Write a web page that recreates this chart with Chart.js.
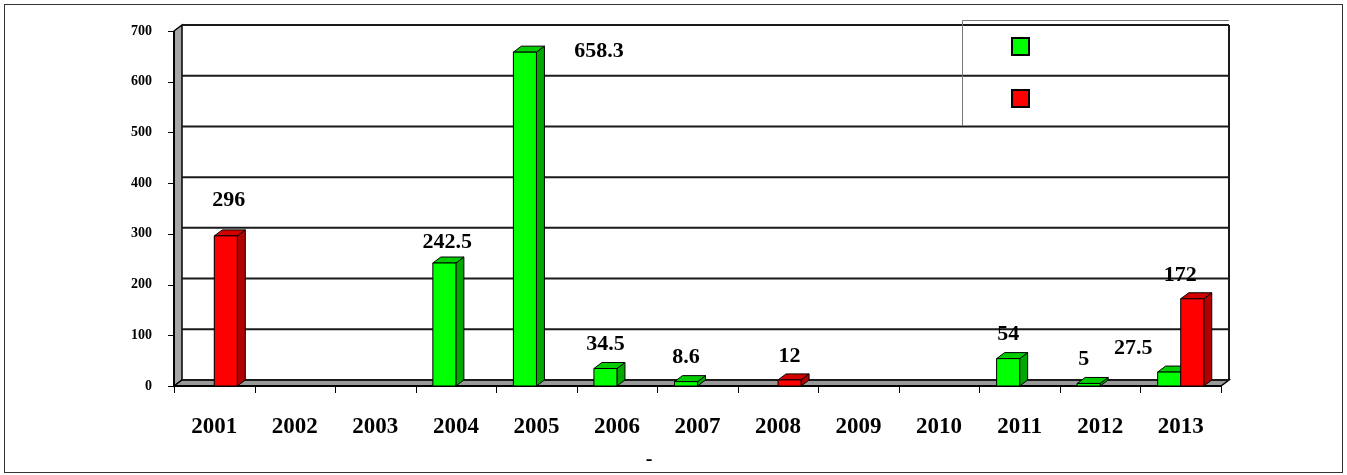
<!DOCTYPE html>
<html>
<head>
<meta charset="utf-8">
<script src="https://cdn.jsdelivr.net/npm/chart.js@4.4.0/dist/chart.umd.min.js"></script>
<style>
  html, body { margin: 0; padding: 0; background: #fff; }
  #wrap { width: 1347px; height: 475px; position: relative; }
</style>
</head>
<body>
<div id="wrap"><canvas id="chart"></canvas></div>
<script>
// Data
const years = ['2001', '2002', '2003', '2004', '2005', '2006', '2007', '2008', '2009', '2010', '2011', '2012', '2013'];
const greenValues = [null, null, null, 242.5, 658.3, 34.5, 8.6, null, null, null, 54, 5, 27.5];
const redValues = [296, null, null, null, null, null, null, 12, null, null, null, null, 172];
const yTicks = [0, 100, 200, 300, 400, 500, 600, 700];

// 3D depth offset of the back plane
const DX = 8, DY = -6;
const serif = '"Liberation Serif", "Times New Roman", serif';

const faceColors = [
  { front: '#00ff00', side: '#00a800', top: '#00cc00' },
  { front: '#ff0000', side: '#b00000', top: '#d40000' }
];

// label nudges (pixels) where the original placed them away from the bar top
const labelShift = {
  '1:0': [3, -12],
  '0:3': [3, 3],
  '0:4': [74, 23],
  '0:11': [-5, 0],
  '0:12': [-36, 0],
  '1:12': [-12, 1]
};

function poly(ctx, pts) {
  ctx.beginPath();
  ctx.moveTo(pts[0][0], pts[0][1]);
  for (let i = 1; i < pts.length; i++) ctx.lineTo(pts[i][0], pts[i][1]);
  ctx.closePath();
}

const threeD = {
  id: 'threeD',
  beforeDraw(chart) {
    const ctx = chart.ctx;
    ctx.save();
    ctx.fillStyle = '#fff';
    ctx.fillRect(0, 0, chart.width, chart.height);
    ctx.strokeStyle = '#333';
    ctx.lineWidth = 1;
    ctx.strokeRect(4.5, 4.5, 1338, 468);
    ctx.restore();
  },
  beforeDatasetsDraw(chart) {
    const ctx = chart.ctx, xs = chart.scales.x, ys = chart.scales.y;
    const l = xs.left, r = xs.right;
    const t = ys.getPixelForValue(700), b = ys.getPixelForValue(0);
    ctx.save();
    ctx.strokeStyle = '#000';
    ctx.lineWidth = 1.5;
    // left wall
    ctx.fillStyle = '#a6a6a6';
    poly(ctx, [[l, b], [l, t], [l + DX, t + DY], [l + DX, b + DY]]);
    ctx.fill(); ctx.stroke();
    // floor
    ctx.fillStyle = '#999';
    poly(ctx, [[l, b], [l + DX, b + DY], [r + DX, b + DY], [r, b]]);
    ctx.fill(); ctx.stroke();
    // grid lines on the back wall
    ctx.strokeStyle = '#1a1a1a';
    ctx.lineWidth = 2;
    yTicks.forEach(v => {
      const py = ys.getPixelForValue(v) + DY;
      ctx.beginPath();
      ctx.moveTo(l + DX, py);
      ctx.lineTo(r + DX, py);
      ctx.stroke();
    });
    // right edge of back wall
    ctx.beginPath();
    ctx.moveTo(r + DX, t + DY);
    ctx.lineTo(r + DX, b + DY);
    ctx.stroke();
    // front axes
    ctx.strokeStyle = '#000';
    ctx.lineWidth = 2;
    ctx.beginPath();
    ctx.moveTo(l, t); ctx.lineTo(l, b); ctx.lineTo(r, b);
    ctx.stroke();
    ctx.lineWidth = 1;
    yTicks.forEach(v => {
      const py = Math.round(ys.getPixelForValue(v)) + 0.5;
      ctx.beginPath(); ctx.moveTo(l - 6, py); ctx.lineTo(l, py); ctx.stroke();
    });
    const cw = (r - l) / years.length;
    for (let i = 0; i <= years.length; i++) {
      const px = Math.round(l + i * cw) + 0.5;
      ctx.beginPath(); ctx.moveTo(px, b); ctx.lineTo(px, b + 7); ctx.stroke();
    }
    ctx.restore();
  },
  afterDatasetsDraw(chart) {
    const ctx = chart.ctx;
    const bars = [];
    chart.data.datasets.forEach((ds, di) => {
      chart.getDatasetMeta(di).data.forEach((el, i) => {
        if (ds.data[i] == null) return;
        bars.push({ el, di, i, v: ds.data[i] });
      });
    });
    bars.sort((a, b) => a.el.x - b.el.x);
    ctx.save();
    ctx.strokeStyle = '#000';
    ctx.lineWidth = 1;
    bars.forEach(({ el, di }) => {
      const c = faceColors[di];
      const x0 = el.x - el.width / 2, x1 = el.x + el.width / 2;
      const top = el.y, base = el.base;
      ctx.fillStyle = c.side;
      poly(ctx, [[x1, base], [x1, top], [x1 + DX, top + DY], [x1 + DX, base + DY]]);
      ctx.fill(); ctx.stroke();
      ctx.fillStyle = c.top;
      poly(ctx, [[x0, top], [x0 + DX, top + DY], [x1 + DX, top + DY], [x1, top]]);
      ctx.fill(); ctx.stroke();
      ctx.fillStyle = c.front;
      poly(ctx, [[x0, base], [x0, top], [x1, top], [x1, base]]);
      ctx.fill(); ctx.stroke();
    });
    // value labels
    ctx.fillStyle = '#000';
    ctx.font = 'bold 22px ' + serif;
    ctx.textAlign = 'center';
    ctx.textBaseline = 'middle';
    bars.forEach(({ el, di, i, v }) => {
      const s = labelShift[di + ':' + i] || [0, 0];
      ctx.fillText(String(v), el.x + s[0], el.y - 24 + s[1]);
    });
    // axis title (only the dash survives in the original)
    ctx.font = 'bold 20px ' + serif;
    ctx.fillText('-', 649, 460);
    // legend box
    ctx.strokeStyle = '#777';
    ctx.lineWidth = 1;
    ctx.beginPath();
    ctx.moveTo(962.5, 126); ctx.lineTo(962.5, 20.5); ctx.lineTo(1229, 20.5);
    ctx.stroke();
    ctx.strokeStyle = '#000';
    ctx.lineWidth = 2;
    [[38, 0], [90, 1]].forEach(([py, di]) => {
      ctx.fillStyle = faceColors[di].front;
      ctx.fillRect(1012, py, 17, 17);
      ctx.strokeRect(1012, py, 17, 17);
    });
    ctx.restore();
  }
};

const ctx = document.getElementById('chart').getContext('2d');
const chart = new Chart(ctx, {
  type: 'bar',
  data: {
    labels: years,
    datasets: [
      { label: '', data: greenValues, backgroundColor: faceColors[0].front, borderColor: '#000', borderWidth: 1 },
      { label: '', data: redValues, backgroundColor: faceColors[1].front, borderColor: '#000', borderWidth: 1 }
    ]
  },
  options: {
    responsive: true,
    maintainAspectRatio: false,
    devicePixelRatio: 1,
    animation: false,
    layout: { padding: { top: 31, right: 126, left: 0, bottom: 0 } },
    datasets: { bar: { categoryPercentage: 0.572, barPercentage: 1 } },
    plugins: { legend: { display: false }, tooltip: { enabled: false } },
    scales: {
      x: {
        grid: { display: false, drawTicks: false },
        border: { display: false },
        ticks: { color: '#000', padding: 27, font: { family: serif, size: 23, weight: 'bold' }, maxRotation: 0 },
        afterFit(scale) { scale.height = 89; }
      },
      y: {
        min: 0,
        max: 700,
        grid: { display: false, drawTicks: false },
        border: { display: false },
        ticks: { stepSize: 100, color: '#000', padding: 22, font: { family: serif, size: 14, weight: 'bold' } },
        afterFit(scale) { scale.width = 174; }
      }
    }
  },
  plugins: [threeD]
});
</script>
</body>
</html>
